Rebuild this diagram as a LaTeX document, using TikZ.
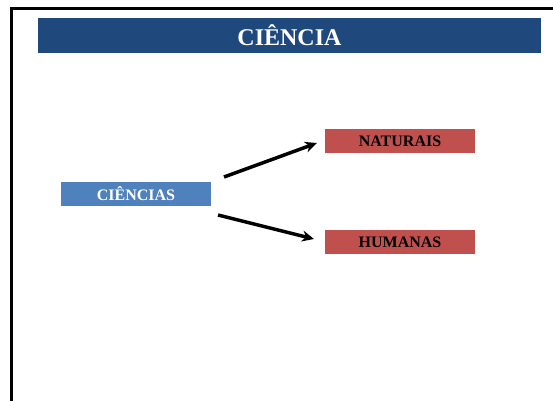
\documentclass[tikz,border=0pt]{standalone}
\usepackage{fontspec}
\setmainfont{Liberation Serif}
\usetikzlibrary{arrows.meta}
\definecolor{titleblue}{HTML}{1F497D}
\definecolor{boxblue}{HTML}{4F81BD}
\definecolor{boxred}{HTML}{C0504D}
\begin{document}
\begin{tikzpicture}[x=1pt,y=-1pt,
  bar/.style={fill=titleblue,draw=none,inner sep=0pt,minimum width=503pt,minimum height=35pt,text=white,font=\bfseries\fontsize{24}{28}\selectfont},
  bluebox/.style={fill=boxblue,draw=none,inner sep=0pt,minimum width=150pt,minimum height=24pt,text=white,font=\bfseries\fontsize{16}{18}\selectfont},
  redbox/.style={fill=boxred,draw=none,inner sep=0pt,minimum width=150pt,minimum height=24pt,text=black,font=\bfseries\fontsize{16}{18}\selectfont},
  link/.style={line width=3.5pt,-{Stealth[length=12pt,width=11pt]}}]
\useasboundingbox (0,0) rectangle (553,400);
\draw[line width=3pt] (11,402) -- (11,8) -- (556,8);
\node[bar] (title) at (289.5,35.5) {CIÊNCIA};
\node[bluebox] (cien) at (136,194) {CIÊNCIAS};
\node[redbox] (nat) at (400,141) {NATURAIS};
\node[redbox] (hum) at (400,242) {HUMANAS};
\coordinate (a1) at (224,177);
\coordinate (a2) at (317,143);
\coordinate (b1) at (218,215);
\coordinate (b2) at (314,239);
\draw[link] (a1) -- (a2);
\draw[link] (b1) -- (b2);
\end{tikzpicture}
\end{document}
